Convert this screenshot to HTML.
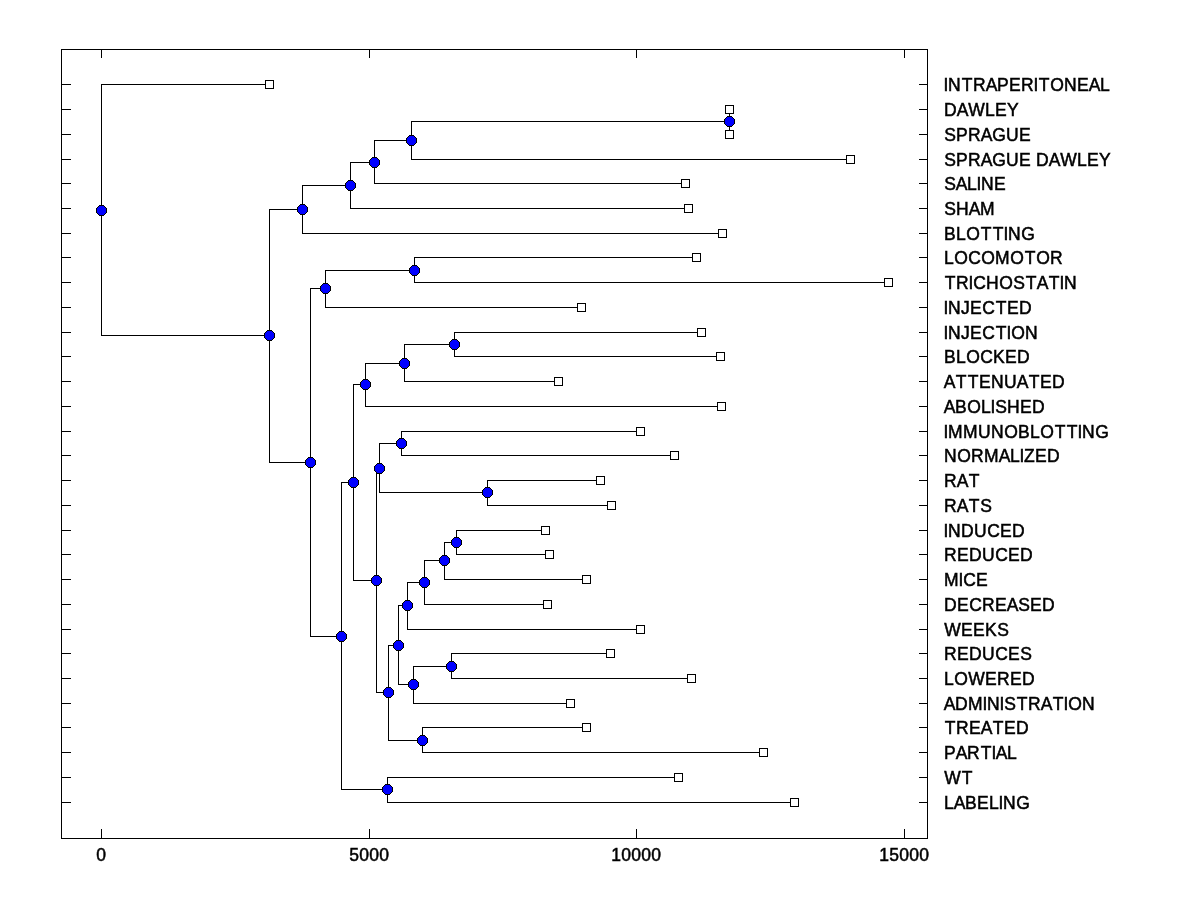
<!DOCTYPE html>
<html lang="en"><head><meta charset="utf-8"><title>Dendrogram</title>
<style>
html,body{margin:0;padding:0;background:#fff;}
body{width:1200px;height:900px;overflow:hidden;}
svg{display:block;}
text{font-family:"Liberation Sans",Arial,Helvetica,sans-serif;font-size:17.5px;fill:#000;font-kerning:none;stroke:#000;stroke-width:0.5px;stroke-linejoin:miter;}
</style></head>
<body>
<svg width="1200" height="900" viewBox="0 0 1200 900">
<rect x="0" y="0" width="1200" height="900" fill="#fff"/>
<path shape-rendering="crispEdges" fill="#000" d="M61 49h867v1h-867zM61 838h867v1h-867zM61 49h1v790h-1zM927 49h1v790h-1zM101 49h1v9h-1zM101 829h1v10h-1zM369 49h1v9h-1zM369 829h1v10h-1zM636 49h1v9h-1zM636 829h1v10h-1zM904 49h1v9h-1zM904 829h1v10h-1zM61 84h10v1h-10zM919 84h9v1h-9zM61 109h10v1h-10zM919 109h9v1h-9zM61 134h10v1h-10zM919 134h9v1h-9zM61 159h10v1h-10zM919 159h9v1h-9zM61 183h10v1h-10zM919 183h9v1h-9zM61 208h10v1h-10zM919 208h9v1h-9zM61 233h10v1h-10zM919 233h9v1h-9zM61 257h10v1h-10zM919 257h9v1h-9zM61 282h10v1h-10zM919 282h9v1h-9zM61 307h10v1h-10zM919 307h9v1h-9zM61 332h10v1h-10zM919 332h9v1h-9zM61 356h10v1h-10zM919 356h9v1h-9zM61 381h10v1h-10zM919 381h9v1h-9zM61 406h10v1h-10zM919 406h9v1h-9zM61 431h10v1h-10zM919 431h9v1h-9zM61 455h10v1h-10zM919 455h9v1h-9zM61 480h10v1h-10zM919 480h9v1h-9zM61 505h10v1h-10zM919 505h9v1h-9zM61 530h10v1h-10zM919 530h9v1h-9zM61 554h10v1h-10zM919 554h9v1h-9zM61 579h10v1h-10zM919 579h9v1h-9zM61 604h10v1h-10zM919 604h9v1h-9zM61 629h10v1h-10zM919 629h9v1h-9zM61 653h10v1h-10zM919 653h9v1h-9zM61 678h10v1h-10zM919 678h9v1h-9zM61 703h10v1h-10zM919 703h9v1h-9zM61 727h10v1h-10zM919 727h9v1h-9zM61 752h10v1h-10zM919 752h9v1h-9zM61 777h10v1h-10zM919 777h9v1h-9zM61 802h10v1h-10zM919 802h9v1h-9zM729 109h1v26h-1zM729 109h1v1h-1zM729 134h1v1h-1zM411 121h1v39h-1zM411 121h319v1h-319zM411 159h440v1h-440zM374 140h1v44h-1zM374 140h38v1h-38zM374 183h312v1h-312zM350 162h1v47h-1zM350 162h25v1h-25zM350 208h339v1h-339zM302 185h1v49h-1zM302 185h49v1h-49zM302 233h421v1h-421zM414 257h1v26h-1zM414 257h283v1h-283zM414 282h475v1h-475zM325 270h1v38h-1zM325 270h90v1h-90zM325 307h257v1h-257zM454 332h1v25h-1zM454 332h248v1h-248zM454 356h267v1h-267zM404 344h1v38h-1zM404 344h51v1h-51zM404 381h155v1h-155zM365 363h1v44h-1zM365 363h40v1h-40zM365 406h357v1h-357zM401 431h1v25h-1zM401 431h240v1h-240zM401 455h274v1h-274zM487 480h1v26h-1zM487 480h114v1h-114zM487 505h125v1h-125zM379 443h1v50h-1zM379 443h23v1h-23zM379 492h109v1h-109zM456 530h1v25h-1zM456 530h90v1h-90zM456 554h94v1h-94zM444 542h1v38h-1zM444 542h13v1h-13zM444 579h143v1h-143zM424 560h1v45h-1zM424 560h21v1h-21zM424 604h124v1h-124zM407 582h1v48h-1zM407 582h18v1h-18zM407 629h234v1h-234zM451 653h1v26h-1zM451 653h160v1h-160zM451 678h241v1h-241zM413 666h1v38h-1zM413 666h39v1h-39zM413 703h158v1h-158zM398 605h1v80h-1zM398 605h10v1h-10zM398 684h16v1h-16zM422 727h1v26h-1zM422 727h165v1h-165zM422 752h342v1h-342zM388 645h1v96h-1zM388 645h11v1h-11zM388 740h35v1h-35zM376 468h1v225h-1zM376 468h4v1h-4zM376 692h13v1h-13zM353 384h1v197h-1zM353 384h13v1h-13zM353 580h24v1h-24zM387 777h1v26h-1zM387 777h292v1h-292zM387 802h408v1h-408zM341 482h1v308h-1zM341 482h13v1h-13zM341 789h47v1h-47zM310 288h1v349h-1zM310 288h16v1h-16zM310 636h32v1h-32zM269 209h1v254h-1zM269 209h34v1h-34zM269 462h42v1h-42zM101 84h1v252h-1zM101 84h169v1h-169zM101 335h169v1h-169z"/>
<g shape-rendering="crispEdges" fill="#fff" stroke="#000" stroke-width="1">
<rect x="265.5" y="80.5" width="8" height="8"/><rect x="725.5" y="105.5" width="8" height="8"/><rect x="725.5" y="130.5" width="8" height="8"/><rect x="846.5" y="155.5" width="8" height="8"/><rect x="681.5" y="179.5" width="8" height="8"/><rect x="684.5" y="204.5" width="8" height="8"/><rect x="718.5" y="229.5" width="8" height="8"/><rect x="692.5" y="253.5" width="8" height="8"/><rect x="884.5" y="278.5" width="8" height="8"/><rect x="577.5" y="303.5" width="8" height="8"/><rect x="697.5" y="328.5" width="8" height="8"/><rect x="716.5" y="352.5" width="8" height="8"/><rect x="554.5" y="377.5" width="8" height="8"/><rect x="717.5" y="402.5" width="8" height="8"/><rect x="636.5" y="427.5" width="8" height="8"/><rect x="670.5" y="451.5" width="8" height="8"/><rect x="596.5" y="476.5" width="8" height="8"/><rect x="607.5" y="501.5" width="8" height="8"/><rect x="541.5" y="526.5" width="8" height="8"/><rect x="545.5" y="550.5" width="8" height="8"/><rect x="582.5" y="575.5" width="8" height="8"/><rect x="543.5" y="600.5" width="8" height="8"/><rect x="636.5" y="625.5" width="8" height="8"/><rect x="606.5" y="649.5" width="8" height="8"/><rect x="687.5" y="674.5" width="8" height="8"/><rect x="566.5" y="699.5" width="8" height="8"/><rect x="582.5" y="723.5" width="8" height="8"/><rect x="759.5" y="748.5" width="8" height="8"/><rect x="674.5" y="773.5" width="8" height="8"/><rect x="790.5" y="798.5" width="8" height="8"/>
</g>
<g shape-rendering="crispEdges">
<path fill="#00f" d="M727 117h5v1h-5zM726 118h7v1h-7zM725 119h9v1h-9zM725 120h9v1h-9zM725 121h9v1h-9zM725 122h9v1h-9zM725 123h9v1h-9zM726 124h7v1h-7zM727 125h5v1h-5zM409 136h5v1h-5zM408 137h7v1h-7zM407 138h9v1h-9zM407 139h9v1h-9zM407 140h9v1h-9zM407 141h9v1h-9zM407 142h9v1h-9zM408 143h7v1h-7zM409 144h5v1h-5zM372 158h5v1h-5zM371 159h7v1h-7zM370 160h9v1h-9zM370 161h9v1h-9zM370 162h9v1h-9zM370 163h9v1h-9zM370 164h9v1h-9zM371 165h7v1h-7zM372 166h5v1h-5zM348 181h5v1h-5zM347 182h7v1h-7zM346 183h9v1h-9zM346 184h9v1h-9zM346 185h9v1h-9zM346 186h9v1h-9zM346 187h9v1h-9zM347 188h7v1h-7zM348 189h5v1h-5zM300 205h5v1h-5zM299 206h7v1h-7zM298 207h9v1h-9zM298 208h9v1h-9zM298 209h9v1h-9zM298 210h9v1h-9zM298 211h9v1h-9zM299 212h7v1h-7zM300 213h5v1h-5zM412 266h5v1h-5zM411 267h7v1h-7zM410 268h9v1h-9zM410 269h9v1h-9zM410 270h9v1h-9zM410 271h9v1h-9zM410 272h9v1h-9zM411 273h7v1h-7zM412 274h5v1h-5zM323 284h5v1h-5zM322 285h7v1h-7zM321 286h9v1h-9zM321 287h9v1h-9zM321 288h9v1h-9zM321 289h9v1h-9zM321 290h9v1h-9zM322 291h7v1h-7zM323 292h5v1h-5zM452 340h5v1h-5zM451 341h7v1h-7zM450 342h9v1h-9zM450 343h9v1h-9zM450 344h9v1h-9zM450 345h9v1h-9zM450 346h9v1h-9zM451 347h7v1h-7zM452 348h5v1h-5zM402 359h5v1h-5zM401 360h7v1h-7zM400 361h9v1h-9zM400 362h9v1h-9zM400 363h9v1h-9zM400 364h9v1h-9zM400 365h9v1h-9zM401 366h7v1h-7zM402 367h5v1h-5zM363 380h5v1h-5zM362 381h7v1h-7zM361 382h9v1h-9zM361 383h9v1h-9zM361 384h9v1h-9zM361 385h9v1h-9zM361 386h9v1h-9zM362 387h7v1h-7zM363 388h5v1h-5zM399 439h5v1h-5zM398 440h7v1h-7zM397 441h9v1h-9zM397 442h9v1h-9zM397 443h9v1h-9zM397 444h9v1h-9zM397 445h9v1h-9zM398 446h7v1h-7zM399 447h5v1h-5zM485 488h5v1h-5zM484 489h7v1h-7zM483 490h9v1h-9zM483 491h9v1h-9zM483 492h9v1h-9zM483 493h9v1h-9zM483 494h9v1h-9zM484 495h7v1h-7zM485 496h5v1h-5zM377 464h5v1h-5zM376 465h7v1h-7zM375 466h9v1h-9zM375 467h9v1h-9zM375 468h9v1h-9zM375 469h9v1h-9zM375 470h9v1h-9zM376 471h7v1h-7zM377 472h5v1h-5zM454 538h5v1h-5zM453 539h7v1h-7zM452 540h9v1h-9zM452 541h9v1h-9zM452 542h9v1h-9zM452 543h9v1h-9zM452 544h9v1h-9zM453 545h7v1h-7zM454 546h5v1h-5zM442 556h5v1h-5zM441 557h7v1h-7zM440 558h9v1h-9zM440 559h9v1h-9zM440 560h9v1h-9zM440 561h9v1h-9zM440 562h9v1h-9zM441 563h7v1h-7zM442 564h5v1h-5zM422 578h5v1h-5zM421 579h7v1h-7zM420 580h9v1h-9zM420 581h9v1h-9zM420 582h9v1h-9zM420 583h9v1h-9zM420 584h9v1h-9zM421 585h7v1h-7zM422 586h5v1h-5zM405 601h5v1h-5zM404 602h7v1h-7zM403 603h9v1h-9zM403 604h9v1h-9zM403 605h9v1h-9zM403 606h9v1h-9zM403 607h9v1h-9zM404 608h7v1h-7zM405 609h5v1h-5zM449 662h5v1h-5zM448 663h7v1h-7zM447 664h9v1h-9zM447 665h9v1h-9zM447 666h9v1h-9zM447 667h9v1h-9zM447 668h9v1h-9zM448 669h7v1h-7zM449 670h5v1h-5zM411 680h5v1h-5zM410 681h7v1h-7zM409 682h9v1h-9zM409 683h9v1h-9zM409 684h9v1h-9zM409 685h9v1h-9zM409 686h9v1h-9zM410 687h7v1h-7zM411 688h5v1h-5zM396 641h5v1h-5zM395 642h7v1h-7zM394 643h9v1h-9zM394 644h9v1h-9zM394 645h9v1h-9zM394 646h9v1h-9zM394 647h9v1h-9zM395 648h7v1h-7zM396 649h5v1h-5zM420 736h5v1h-5zM419 737h7v1h-7zM418 738h9v1h-9zM418 739h9v1h-9zM418 740h9v1h-9zM418 741h9v1h-9zM418 742h9v1h-9zM419 743h7v1h-7zM420 744h5v1h-5zM386 688h5v1h-5zM385 689h7v1h-7zM384 690h9v1h-9zM384 691h9v1h-9zM384 692h9v1h-9zM384 693h9v1h-9zM384 694h9v1h-9zM385 695h7v1h-7zM386 696h5v1h-5zM374 576h5v1h-5zM373 577h7v1h-7zM372 578h9v1h-9zM372 579h9v1h-9zM372 580h9v1h-9zM372 581h9v1h-9zM372 582h9v1h-9zM373 583h7v1h-7zM374 584h5v1h-5zM351 478h5v1h-5zM350 479h7v1h-7zM349 480h9v1h-9zM349 481h9v1h-9zM349 482h9v1h-9zM349 483h9v1h-9zM349 484h9v1h-9zM350 485h7v1h-7zM351 486h5v1h-5zM385 785h5v1h-5zM384 786h7v1h-7zM383 787h9v1h-9zM383 788h9v1h-9zM383 789h9v1h-9zM383 790h9v1h-9zM383 791h9v1h-9zM384 792h7v1h-7zM385 793h5v1h-5zM339 632h5v1h-5zM338 633h7v1h-7zM337 634h9v1h-9zM337 635h9v1h-9zM337 636h9v1h-9zM337 637h9v1h-9zM337 638h9v1h-9zM338 639h7v1h-7zM339 640h5v1h-5zM308 458h5v1h-5zM307 459h7v1h-7zM306 460h9v1h-9zM306 461h9v1h-9zM306 462h9v1h-9zM306 463h9v1h-9zM306 464h9v1h-9zM307 465h7v1h-7zM308 466h5v1h-5zM267 331h5v1h-5zM266 332h7v1h-7zM265 333h9v1h-9zM265 334h9v1h-9zM265 335h9v1h-9zM265 336h9v1h-9zM265 337h9v1h-9zM266 338h7v1h-7zM267 339h5v1h-5zM99 206h5v1h-5zM98 207h7v1h-7zM97 208h9v1h-9zM97 209h9v1h-9zM97 210h9v1h-9zM97 211h9v1h-9zM97 212h9v1h-9zM98 213h7v1h-7zM99 214h5v1h-5z"/>
<path fill="#000" d="M727 116h5v1h-5zM726 117h1v1h-1zM732 117h1v1h-1zM725 118h1v1h-1zM733 118h1v1h-1zM724 119h1v1h-1zM734 119h1v1h-1zM724 120h1v1h-1zM734 120h1v1h-1zM724 121h1v1h-1zM734 121h1v1h-1zM724 122h1v1h-1zM734 122h1v1h-1zM724 123h1v1h-1zM734 123h1v1h-1zM725 124h1v1h-1zM733 124h1v1h-1zM726 125h1v1h-1zM732 125h1v1h-1zM727 126h5v1h-5zM409 135h5v1h-5zM408 136h1v1h-1zM414 136h1v1h-1zM407 137h1v1h-1zM415 137h1v1h-1zM406 138h1v1h-1zM416 138h1v1h-1zM406 139h1v1h-1zM416 139h1v1h-1zM406 140h1v1h-1zM416 140h1v1h-1zM406 141h1v1h-1zM416 141h1v1h-1zM406 142h1v1h-1zM416 142h1v1h-1zM407 143h1v1h-1zM415 143h1v1h-1zM408 144h1v1h-1zM414 144h1v1h-1zM409 145h5v1h-5zM372 157h5v1h-5zM371 158h1v1h-1zM377 158h1v1h-1zM370 159h1v1h-1zM378 159h1v1h-1zM369 160h1v1h-1zM379 160h1v1h-1zM369 161h1v1h-1zM379 161h1v1h-1zM369 162h1v1h-1zM379 162h1v1h-1zM369 163h1v1h-1zM379 163h1v1h-1zM369 164h1v1h-1zM379 164h1v1h-1zM370 165h1v1h-1zM378 165h1v1h-1zM371 166h1v1h-1zM377 166h1v1h-1zM372 167h5v1h-5zM348 180h5v1h-5zM347 181h1v1h-1zM353 181h1v1h-1zM346 182h1v1h-1zM354 182h1v1h-1zM345 183h1v1h-1zM355 183h1v1h-1zM345 184h1v1h-1zM355 184h1v1h-1zM345 185h1v1h-1zM355 185h1v1h-1zM345 186h1v1h-1zM355 186h1v1h-1zM345 187h1v1h-1zM355 187h1v1h-1zM346 188h1v1h-1zM354 188h1v1h-1zM347 189h1v1h-1zM353 189h1v1h-1zM348 190h5v1h-5zM300 204h5v1h-5zM299 205h1v1h-1zM305 205h1v1h-1zM298 206h1v1h-1zM306 206h1v1h-1zM297 207h1v1h-1zM307 207h1v1h-1zM297 208h1v1h-1zM307 208h1v1h-1zM297 209h1v1h-1zM307 209h1v1h-1zM297 210h1v1h-1zM307 210h1v1h-1zM297 211h1v1h-1zM307 211h1v1h-1zM298 212h1v1h-1zM306 212h1v1h-1zM299 213h1v1h-1zM305 213h1v1h-1zM300 214h5v1h-5zM412 265h5v1h-5zM411 266h1v1h-1zM417 266h1v1h-1zM410 267h1v1h-1zM418 267h1v1h-1zM409 268h1v1h-1zM419 268h1v1h-1zM409 269h1v1h-1zM419 269h1v1h-1zM409 270h1v1h-1zM419 270h1v1h-1zM409 271h1v1h-1zM419 271h1v1h-1zM409 272h1v1h-1zM419 272h1v1h-1zM410 273h1v1h-1zM418 273h1v1h-1zM411 274h1v1h-1zM417 274h1v1h-1zM412 275h5v1h-5zM323 283h5v1h-5zM322 284h1v1h-1zM328 284h1v1h-1zM321 285h1v1h-1zM329 285h1v1h-1zM320 286h1v1h-1zM330 286h1v1h-1zM320 287h1v1h-1zM330 287h1v1h-1zM320 288h1v1h-1zM330 288h1v1h-1zM320 289h1v1h-1zM330 289h1v1h-1zM320 290h1v1h-1zM330 290h1v1h-1zM321 291h1v1h-1zM329 291h1v1h-1zM322 292h1v1h-1zM328 292h1v1h-1zM323 293h5v1h-5zM452 339h5v1h-5zM451 340h1v1h-1zM457 340h1v1h-1zM450 341h1v1h-1zM458 341h1v1h-1zM449 342h1v1h-1zM459 342h1v1h-1zM449 343h1v1h-1zM459 343h1v1h-1zM449 344h1v1h-1zM459 344h1v1h-1zM449 345h1v1h-1zM459 345h1v1h-1zM449 346h1v1h-1zM459 346h1v1h-1zM450 347h1v1h-1zM458 347h1v1h-1zM451 348h1v1h-1zM457 348h1v1h-1zM452 349h5v1h-5zM402 358h5v1h-5zM401 359h1v1h-1zM407 359h1v1h-1zM400 360h1v1h-1zM408 360h1v1h-1zM399 361h1v1h-1zM409 361h1v1h-1zM399 362h1v1h-1zM409 362h1v1h-1zM399 363h1v1h-1zM409 363h1v1h-1zM399 364h1v1h-1zM409 364h1v1h-1zM399 365h1v1h-1zM409 365h1v1h-1zM400 366h1v1h-1zM408 366h1v1h-1zM401 367h1v1h-1zM407 367h1v1h-1zM402 368h5v1h-5zM363 379h5v1h-5zM362 380h1v1h-1zM368 380h1v1h-1zM361 381h1v1h-1zM369 381h1v1h-1zM360 382h1v1h-1zM370 382h1v1h-1zM360 383h1v1h-1zM370 383h1v1h-1zM360 384h1v1h-1zM370 384h1v1h-1zM360 385h1v1h-1zM370 385h1v1h-1zM360 386h1v1h-1zM370 386h1v1h-1zM361 387h1v1h-1zM369 387h1v1h-1zM362 388h1v1h-1zM368 388h1v1h-1zM363 389h5v1h-5zM399 438h5v1h-5zM398 439h1v1h-1zM404 439h1v1h-1zM397 440h1v1h-1zM405 440h1v1h-1zM396 441h1v1h-1zM406 441h1v1h-1zM396 442h1v1h-1zM406 442h1v1h-1zM396 443h1v1h-1zM406 443h1v1h-1zM396 444h1v1h-1zM406 444h1v1h-1zM396 445h1v1h-1zM406 445h1v1h-1zM397 446h1v1h-1zM405 446h1v1h-1zM398 447h1v1h-1zM404 447h1v1h-1zM399 448h5v1h-5zM485 487h5v1h-5zM484 488h1v1h-1zM490 488h1v1h-1zM483 489h1v1h-1zM491 489h1v1h-1zM482 490h1v1h-1zM492 490h1v1h-1zM482 491h1v1h-1zM492 491h1v1h-1zM482 492h1v1h-1zM492 492h1v1h-1zM482 493h1v1h-1zM492 493h1v1h-1zM482 494h1v1h-1zM492 494h1v1h-1zM483 495h1v1h-1zM491 495h1v1h-1zM484 496h1v1h-1zM490 496h1v1h-1zM485 497h5v1h-5zM377 463h5v1h-5zM376 464h1v1h-1zM382 464h1v1h-1zM375 465h1v1h-1zM383 465h1v1h-1zM374 466h1v1h-1zM384 466h1v1h-1zM374 467h1v1h-1zM384 467h1v1h-1zM374 468h1v1h-1zM384 468h1v1h-1zM374 469h1v1h-1zM384 469h1v1h-1zM374 470h1v1h-1zM384 470h1v1h-1zM375 471h1v1h-1zM383 471h1v1h-1zM376 472h1v1h-1zM382 472h1v1h-1zM377 473h5v1h-5zM454 537h5v1h-5zM453 538h1v1h-1zM459 538h1v1h-1zM452 539h1v1h-1zM460 539h1v1h-1zM451 540h1v1h-1zM461 540h1v1h-1zM451 541h1v1h-1zM461 541h1v1h-1zM451 542h1v1h-1zM461 542h1v1h-1zM451 543h1v1h-1zM461 543h1v1h-1zM451 544h1v1h-1zM461 544h1v1h-1zM452 545h1v1h-1zM460 545h1v1h-1zM453 546h1v1h-1zM459 546h1v1h-1zM454 547h5v1h-5zM442 555h5v1h-5zM441 556h1v1h-1zM447 556h1v1h-1zM440 557h1v1h-1zM448 557h1v1h-1zM439 558h1v1h-1zM449 558h1v1h-1zM439 559h1v1h-1zM449 559h1v1h-1zM439 560h1v1h-1zM449 560h1v1h-1zM439 561h1v1h-1zM449 561h1v1h-1zM439 562h1v1h-1zM449 562h1v1h-1zM440 563h1v1h-1zM448 563h1v1h-1zM441 564h1v1h-1zM447 564h1v1h-1zM442 565h5v1h-5zM422 577h5v1h-5zM421 578h1v1h-1zM427 578h1v1h-1zM420 579h1v1h-1zM428 579h1v1h-1zM419 580h1v1h-1zM429 580h1v1h-1zM419 581h1v1h-1zM429 581h1v1h-1zM419 582h1v1h-1zM429 582h1v1h-1zM419 583h1v1h-1zM429 583h1v1h-1zM419 584h1v1h-1zM429 584h1v1h-1zM420 585h1v1h-1zM428 585h1v1h-1zM421 586h1v1h-1zM427 586h1v1h-1zM422 587h5v1h-5zM405 600h5v1h-5zM404 601h1v1h-1zM410 601h1v1h-1zM403 602h1v1h-1zM411 602h1v1h-1zM402 603h1v1h-1zM412 603h1v1h-1zM402 604h1v1h-1zM412 604h1v1h-1zM402 605h1v1h-1zM412 605h1v1h-1zM402 606h1v1h-1zM412 606h1v1h-1zM402 607h1v1h-1zM412 607h1v1h-1zM403 608h1v1h-1zM411 608h1v1h-1zM404 609h1v1h-1zM410 609h1v1h-1zM405 610h5v1h-5zM449 661h5v1h-5zM448 662h1v1h-1zM454 662h1v1h-1zM447 663h1v1h-1zM455 663h1v1h-1zM446 664h1v1h-1zM456 664h1v1h-1zM446 665h1v1h-1zM456 665h1v1h-1zM446 666h1v1h-1zM456 666h1v1h-1zM446 667h1v1h-1zM456 667h1v1h-1zM446 668h1v1h-1zM456 668h1v1h-1zM447 669h1v1h-1zM455 669h1v1h-1zM448 670h1v1h-1zM454 670h1v1h-1zM449 671h5v1h-5zM411 679h5v1h-5zM410 680h1v1h-1zM416 680h1v1h-1zM409 681h1v1h-1zM417 681h1v1h-1zM408 682h1v1h-1zM418 682h1v1h-1zM408 683h1v1h-1zM418 683h1v1h-1zM408 684h1v1h-1zM418 684h1v1h-1zM408 685h1v1h-1zM418 685h1v1h-1zM408 686h1v1h-1zM418 686h1v1h-1zM409 687h1v1h-1zM417 687h1v1h-1zM410 688h1v1h-1zM416 688h1v1h-1zM411 689h5v1h-5zM396 640h5v1h-5zM395 641h1v1h-1zM401 641h1v1h-1zM394 642h1v1h-1zM402 642h1v1h-1zM393 643h1v1h-1zM403 643h1v1h-1zM393 644h1v1h-1zM403 644h1v1h-1zM393 645h1v1h-1zM403 645h1v1h-1zM393 646h1v1h-1zM403 646h1v1h-1zM393 647h1v1h-1zM403 647h1v1h-1zM394 648h1v1h-1zM402 648h1v1h-1zM395 649h1v1h-1zM401 649h1v1h-1zM396 650h5v1h-5zM420 735h5v1h-5zM419 736h1v1h-1zM425 736h1v1h-1zM418 737h1v1h-1zM426 737h1v1h-1zM417 738h1v1h-1zM427 738h1v1h-1zM417 739h1v1h-1zM427 739h1v1h-1zM417 740h1v1h-1zM427 740h1v1h-1zM417 741h1v1h-1zM427 741h1v1h-1zM417 742h1v1h-1zM427 742h1v1h-1zM418 743h1v1h-1zM426 743h1v1h-1zM419 744h1v1h-1zM425 744h1v1h-1zM420 745h5v1h-5zM386 687h5v1h-5zM385 688h1v1h-1zM391 688h1v1h-1zM384 689h1v1h-1zM392 689h1v1h-1zM383 690h1v1h-1zM393 690h1v1h-1zM383 691h1v1h-1zM393 691h1v1h-1zM383 692h1v1h-1zM393 692h1v1h-1zM383 693h1v1h-1zM393 693h1v1h-1zM383 694h1v1h-1zM393 694h1v1h-1zM384 695h1v1h-1zM392 695h1v1h-1zM385 696h1v1h-1zM391 696h1v1h-1zM386 697h5v1h-5zM374 575h5v1h-5zM373 576h1v1h-1zM379 576h1v1h-1zM372 577h1v1h-1zM380 577h1v1h-1zM371 578h1v1h-1zM381 578h1v1h-1zM371 579h1v1h-1zM381 579h1v1h-1zM371 580h1v1h-1zM381 580h1v1h-1zM371 581h1v1h-1zM381 581h1v1h-1zM371 582h1v1h-1zM381 582h1v1h-1zM372 583h1v1h-1zM380 583h1v1h-1zM373 584h1v1h-1zM379 584h1v1h-1zM374 585h5v1h-5zM351 477h5v1h-5zM350 478h1v1h-1zM356 478h1v1h-1zM349 479h1v1h-1zM357 479h1v1h-1zM348 480h1v1h-1zM358 480h1v1h-1zM348 481h1v1h-1zM358 481h1v1h-1zM348 482h1v1h-1zM358 482h1v1h-1zM348 483h1v1h-1zM358 483h1v1h-1zM348 484h1v1h-1zM358 484h1v1h-1zM349 485h1v1h-1zM357 485h1v1h-1zM350 486h1v1h-1zM356 486h1v1h-1zM351 487h5v1h-5zM385 784h5v1h-5zM384 785h1v1h-1zM390 785h1v1h-1zM383 786h1v1h-1zM391 786h1v1h-1zM382 787h1v1h-1zM392 787h1v1h-1zM382 788h1v1h-1zM392 788h1v1h-1zM382 789h1v1h-1zM392 789h1v1h-1zM382 790h1v1h-1zM392 790h1v1h-1zM382 791h1v1h-1zM392 791h1v1h-1zM383 792h1v1h-1zM391 792h1v1h-1zM384 793h1v1h-1zM390 793h1v1h-1zM385 794h5v1h-5zM339 631h5v1h-5zM338 632h1v1h-1zM344 632h1v1h-1zM337 633h1v1h-1zM345 633h1v1h-1zM336 634h1v1h-1zM346 634h1v1h-1zM336 635h1v1h-1zM346 635h1v1h-1zM336 636h1v1h-1zM346 636h1v1h-1zM336 637h1v1h-1zM346 637h1v1h-1zM336 638h1v1h-1zM346 638h1v1h-1zM337 639h1v1h-1zM345 639h1v1h-1zM338 640h1v1h-1zM344 640h1v1h-1zM339 641h5v1h-5zM308 457h5v1h-5zM307 458h1v1h-1zM313 458h1v1h-1zM306 459h1v1h-1zM314 459h1v1h-1zM305 460h1v1h-1zM315 460h1v1h-1zM305 461h1v1h-1zM315 461h1v1h-1zM305 462h1v1h-1zM315 462h1v1h-1zM305 463h1v1h-1zM315 463h1v1h-1zM305 464h1v1h-1zM315 464h1v1h-1zM306 465h1v1h-1zM314 465h1v1h-1zM307 466h1v1h-1zM313 466h1v1h-1zM308 467h5v1h-5zM267 330h5v1h-5zM266 331h1v1h-1zM272 331h1v1h-1zM265 332h1v1h-1zM273 332h1v1h-1zM264 333h1v1h-1zM274 333h1v1h-1zM264 334h1v1h-1zM274 334h1v1h-1zM264 335h1v1h-1zM274 335h1v1h-1zM264 336h1v1h-1zM274 336h1v1h-1zM264 337h1v1h-1zM274 337h1v1h-1zM265 338h1v1h-1zM273 338h1v1h-1zM266 339h1v1h-1zM272 339h1v1h-1zM267 340h5v1h-5zM99 205h5v1h-5zM98 206h1v1h-1zM104 206h1v1h-1zM97 207h1v1h-1zM105 207h1v1h-1zM96 208h1v1h-1zM106 208h1v1h-1zM96 209h1v1h-1zM106 209h1v1h-1zM96 210h1v1h-1zM106 210h1v1h-1zM96 211h1v1h-1zM106 211h1v1h-1zM96 212h1v1h-1zM106 212h1v1h-1zM97 213h1v1h-1zM105 213h1v1h-1zM98 214h1v1h-1zM104 214h1v1h-1zM99 215h5v1h-5z"/>
</g>
<g>
<text x="943.6 948.1 961.65 973.1 985.7 997.1 1009.1 1021.1 1033.6 1038.65 1050.2 1064.1 1077.1 1088.7 1100.1" y="90.75">INTRAPERITONEAL</text>
<text x="944.1 956.7 968.25 985.1 995.1 1007" y="115.75">DAWLEY</text>
<text x="944.2 956.1 968.1 980.7 992.2 1006.1 1019.1" y="140.75">SPRAGUE</text>
<text x="944.2 956.1 968.1 980.7 992.2 1006.1 1019.1 1031 1036.1 1048.7 1060.25 1077.1 1087.1 1099" y="165.75">SPRAGUE DAWLEY</text>
<text x="944.2 955.7 967.1 976.6 981.1 994.1" y="189.75">SALINE</text>
<text x="944.2 956.1 968.7 980.1" y="214.75">SHAM</text>
<text x="944.1 956.1 966.2 980.65 992.65 1003.6 1008.1 1021.2" y="239.75">BLOTTING</text>
<text x="944.1 954.2 968.2 981.2 995.1 1010.2 1024.65 1036.2 1050.1" y="263.75">LOCOMOTOR</text>
<text x="944.65 956.1 968.6 973.2 986.1 999.2 1013.2 1025.65 1036.7 1048.65 1059.6 1064.1" y="288.75">TRICHOSTATIN</text>
<text x="943.6 948.1 961.1 970.1 982.2 995.65 1007.1 1019.1" y="313.75">INJECTED</text>
<text x="943.6 948.1 961.1 970.1 982.2 995.65 1006.6 1011.2 1025.1" y="338.75">INJECTION</text>
<text x="944.1 956.1 966.2 980.2 993.1 1005.1 1017.1" y="362.75">BLOCKED</text>
<text x="943.7 955.65 967.65 979.1 991.1 1004.1 1016.7 1028.65 1040.1 1052.1" y="387.75">ATTENUATED</text>
<text x="943.7 955.1 967.2 981.1 990.6 995.2 1007.1 1020.1 1032.1" y="412.75">ABOLISHED</text>
<text x="943.6 948.1 963.1 978.1 991.1 1004.2 1018.1 1030.1 1040.2 1054.65 1066.65 1077.6 1082.1 1095.2" y="437.75">IMMUNOBLOTTING</text>
<text x="944.1 957.2 971.1 984.1 998.7 1010.1 1019.6 1024.1 1035.1 1047.1" y="461.75">NORMALIZED</text>
<text x="944.1 956.7 968.65" y="486.75">RAT</text>
<text x="944.1 956.7 968.65 980.2" y="511.75">RATS</text>
<text x="943.6 948.1 961.1 974.1 987.2 1000.1 1012.1" y="536.75">INDUCED</text>
<text x="944.1 957.1 969.1 982.1 995.2 1008.1 1020.1" y="560.75">REDUCED</text>
<text x="944.1 958.6 963.2 976.1" y="585.75">MICE</text>
<text x="944.1 957.1 969.2 982.1 995.1 1006.7 1018.2 1030.1 1042.1" y="610.75">DECREASED</text>
<text x="944.25 961.1 973.1 985.1 997.2" y="635.75">WEEKS</text>
<text x="944.1 957.1 969.1 982.1 995.2 1008.1 1020.2" y="659.75">REDUCES</text>
<text x="944.1 954.2 968.25 985.1 997.1 1010.1 1022.1" y="684.75">LOWERED</text>
<text x="943.7 955.1 968.1 982.6 987.1 999.6 1004.2 1016.65 1028.1 1040.7 1052.65 1063.6 1068.2 1082.1" y="709.75">ADMINISTRATION</text>
<text x="944.65 956.1 969.1 980.7 992.65 1004.1 1016.1" y="733.75">TREATED</text>
<text x="944.1 955.7 967.1 980.65 991.6 995.7 1007.1" y="758.75">PARTIAL</text>
<text x="944.25 961.65" y="783.75">WT</text>
<text x="944.1 953.7 965.1 977.1 989.1 998.6 1003.1 1016.2" y="808.75">LABELING</text>
</g>
<g>
<text x="96.14" y="860.75">0</text>
<text x="349.14 359.14 369.14 379.14" y="860.75">5000</text>
<text x="611.14 621.14 631.14 641.14 651.14" y="860.75">10000</text>
<text x="879.14 889.14 899.14 909.14 919.14" y="860.75">15000</text>
</g>
</svg>
</body></html>
